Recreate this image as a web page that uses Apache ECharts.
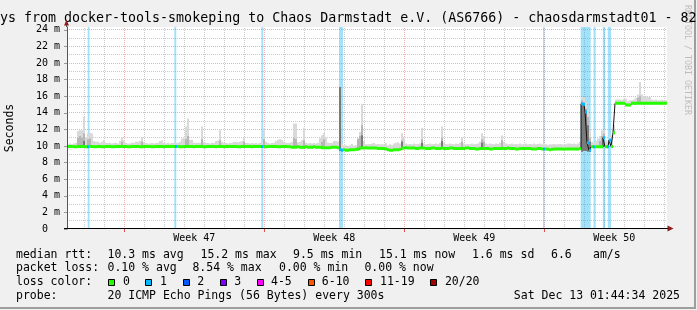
<!DOCTYPE html>
<html><head><meta charset="utf-8">
<script src="https://cdn.jsdelivr.net/npm/echarts@6/dist/echarts.min.js"></script>
<style>html,body{margin:0;padding:0;background:#f0f0f0}#c{width:697px;height:310px}</style>
</head><body><div id="c"></div>
<script>
// ---------------- data ----------------
const titleText = 'ys from docker-tools-smokeping to Chaos Darmstadt e.V. (AS6766) - chaosdarmstadt01 - 82';
const yAxisName = 'Seconds';
const watermark = 'RRDTOOL / TOBI OETIKER';
const yTicks = [0,2,4,6,8,10,12,14,16,18,20,22,24];
const yMinor = [1,3,5,7,9,11,13,15,17,19,21,23];
const weekStarts = [0,7,14,21];          // days, Monday of each week
const weekNames = ['Week 47','Week 48','Week 49','Week 50'];
const dayLines = [-2,-1,1,2,3,4,5,6,8,9,10,11,12,13,15,16,17,18,19,20,22,23,24,25,26,27];
const startDay = -2.865;                 // first sample, days relative to week 47 start
const stepDays = 0.1;                    // sample length in days

const median = [
9.95,9.95,9.95,9.9,9.9,9.95,9.95,9.95,9.95,9.9,
9.9,9.95,9.95,9.9,9.9,9.95,9.95,9.9,9.9,9.95,
9.95,9.95,9.9,9.9,9.95,9.95,9.95,9.95,9.95,9.95,
9.9,9.9,9.95,9.95,9.95,9.95,9.9,9.9,9.95,9.95,
9.95,9.95,9.9,9.9,9.95,9.95,9.95,9.95,9.9,9.95,
9.95,9.95,9.95,9.95,9.95,9.95,9.9,9.9,9.95,9.95,
9.95,9.95,9.95,9.9,9.95,9.95,9.95,9.95,9.9,9.9,
9.95,9.95,9.95,9.95,9.9,9.95,9.95,9.95,9.9,9.95,
9.95,9.95,9.95,9.95,9.95,9.9,9.9,9.95,9.95,9.95,
9.95,9.95,9.9,9.95,9.95,9.95,9.95,9.95,9.95,9.9,
9.95,9.95,9.95,9.95,9.95,9.9,9.9,9.95,9.95,9.95,
9.9,9.9,9.85,9.85,9.85,9.9,9.85,9.85,9.85,9.9,
9.85,9.85,9.85,9.9,9.85,9.85,9.85,9.8,9.8,9.8,
9.8,9.8,9.85,9.85,9.85,9.8,9.6,9.5,9.55,9.5,
9.5,9.55,9.55,9.55,9.6,9.6,9.75,9.75,9.75,9.8,
9.75,9.75,9.75,9.75,9.75,9.7,9.7,9.7,9.7,9.65,
9.55,9.5,9.5,9.55,9.55,9.55,9.6,9.75,9.75,9.8,
9.75,9.75,9.75,9.75,9.7,9.7,9.75,9.75,9.75,9.7,
9.7,9.7,9.75,9.75,9.7,9.7,9.7,9.75,9.7,9.7,
9.7,9.75,9.75,9.7,9.7,9.7,9.7,9.7,9.7,9.75,
9.75,9.7,9.7,9.7,9.65,9.65,9.7,9.7,9.7,9.7,
9.7,9.65,9.65,9.7,9.7,9.7,9.7,9.7,9.7,9.7,
9.75,9.7,9.7,9.7,9.65,9.65,9.7,9.7,9.7,9.7,
9.7,9.7,9.65,9.65,9.65,9.7,9.7,9.65,9.65,9.65,
9.6,9.55,9.6,9.65,9.65,9.65,9.65,9.65,9.6,9.65,
9.65,9.65,9.65,9.65,9.65,9.65,9.7,15.1,15.0,14.1,
10.4,9.5,9.9,9.9,9.9,9.9,9.9,9.9,11.0,9.9,
9.9,10.7,9.95,11.6,15.15,15.15,15.15,15.15,15.15,14.95,
14.95,14.95,15.15,15.15,15.15,15.15,15.15,15.15,15.15,15.15,
15.15,15.15,15.15,15.15,15.15,15.15,15.15,15.15,15.15,15.15
];
const smokeMax = [
10.2,10.3,10.2,10.3,10.4,11.8,11.9,11.9,13.5,11.1,
11.5,11.6,11.5,10.6,10.5,10.5,10.4,10.5,10.75,10.4,
10.35,10.4,10.3,10.35,10.4,10.3,10.6,11.1,10.7,10.4,
10.3,10.3,10.4,10.4,10.5,10.5,10.6,11.1,10.5,10.35,
10.3,10.3,10.4,10.3,10.35,10.4,10.6,10.65,10.35,10.3,
10.4,10.3,10.35,10.4,10.35,10.4,10.5,10.9,11.0,12.35,
13.3,10.75,10.75,10.4,10.35,10.4,10.4,12.35,10.5,10.4,
10.35,10.3,10.4,10.35,10.6,10.65,12.0,10.5,10.4,10.35,
10.3,10.35,10.4,10.5,10.5,10.45,10.5,10.6,11.0,10.4,
10.35,10.3,10.35,10.3,10.35,10.3,10.4,10.5,12.1,10.5,
10.4,10.3,10.35,10.4,10.6,10.75,10.8,10.75,10.5,10.4,
10.35,10.4,10.5,12.7,12.7,10.45,10.5,10.7,12.2,10.4,
10.3,10.35,10.3,10.35,10.3,10.4,11.0,11.3,11.56,11.0,
10.4,10.35,10.4,10.6,10.6,10.55,17.1,10.3,10.05,10.1,
10.0,10.05,10.25,10.05,10.1,11.0,11.7,15.1,10.6,10.2,
10.2,10.25,10.3,10.35,10.2,10.25,10.2,10.2,10.2,10.35,
10.1,10.2,10.1,10.3,10.4,10.45,10.3,11.55,11.0,10.3,
10.2,10.25,10.2,10.3,10.2,10.25,10.3,12.2,10.3,10.2,
10.25,10.3,10.2,10.25,10.3,10.2,10.4,12.35,10.4,10.25,
10.2,10.3,10.25,10.2,10.3,10.25,10.4,11.07,10.3,10.2,
10.25,10.2,10.3,10.2,10.25,10.3,10.5,11.55,11.2,10.3,
10.2,10.3,10.25,10.2,10.3,10.25,10.4,11.27,10.5,10.3,
10.2,10.25,10.3,10.2,10.25,10.2,10.3,10.2,10.25,10.3,
10.2,10.25,10.2,10.3,10.2,10.25,10.3,10.2,10.25,10.2,
10.15,10.2,10.2,10.25,10.2,10.2,10.25,10.2,10.15,10.2,
10.3,10.3,10.25,10.3,10.2,10.3,10.5,15.9,15.9,15.3,
14.3,12.0,10.5,10.4,10.6,10.9,11.2,11.9,11.9,10.7,
10.5,11.3,11.3,12.5,15.6,15.6,15.6,15.5,15.7,15.7,
15.4,15.5,15.5,15.6,15.8,16.2,17.7,16.2,16.0,15.9,
15.9,15.9,15.6,15.5,15.6,15.5,15.5,15.6,15.5,15.5
];
// darker smoke bands (sample index -> top value)
const smokeMidIdx = [5,6,7,8,10,11,27,37,59,60,67,76,88,98,113,114,118,127,128,145,146,147,167,177,187,197,207,208,217,257,258,259,260,261,266,267,268,271,273,285,286];
const smokeMidVal = [11.0,11.2,11.0,11.5,10.8,10.9,10.5,10.5,10.8,11.2,10.8,10.7,10.5,10.8,11.0,10.8,10.7,10.5,10.8,10.8,11.2,12.5,10.7,10.8,11.0,10.5,10.8,10.5,10.7,15.5,15.3,14.5,13.5,11.0,10.6,11.2,11.5,10.8,12.0,15.8,16.0];
const smokeCoreIdx = [8,136,147,167,177,187,207,257,258,259,260,261,268];
const smokeCoreVal = [10.6,17.1,11.3,10.5,10.4,10.6,10.4,15.1,14.9,14.0,12.5,10.5,11.0];
// smoke reaching below the median
const smokeLowIdx = [136,137,257,258,259,260,261];
const smokeLowVal = [9.4,9.3,9.3,9.4,9.4,9.3,9.3];
// periods with packet loss (1/20), in days
const lossStart = [-1.83, 2.5, 6.85, 10.735, 20.935, 22.82, 23.46, 23.925, 24.175];
const lossEnd   = [-1.74, 2.6, 6.95, 10.935, 21.01, 23.32, 23.57, 24.045, 24.335];

const statsRtt = ['10.3 ms avg','15.2 ms max','9.5 ms min','15.1 ms now','1.6 ms sd','6.6','am/s'];
const statsLoss = ['0.10 % avg','8.54 % max','0.00 % min','0.00 % now'];
const lossLabels = ['0','1','2','3','4-5','6-10','11-19','20/20'];
const lossColors = ['#26ff00','#00b8ff','#0059ff','#7e00ff','#ff00ff','#ff5500','#ff0000','#a10000'];
const probeText = '20 ICMP Echo Pings (56 Bytes) every 300s';
const dateText = 'Sat Dec 13 01:44:34 2025';

// ---------------- chart ----------------
const FONT = '"DejaVu Sans Mono", monospace';
const yMax = 24.34;
const N = median.length;
const xMin = startDay, xMax = startDay + N * stepDays;
const toMap = (idx, val) => { const m = {}; idx.forEach((k, j) => m[k] = val[j]); return m; };
const midMap = toMap(smokeMidIdx, smokeMidVal);
const coreMap = toMap(smokeCoreIdx, smokeCoreVal);
const lowMap = toMap(smokeLowIdx, smokeLowVal);
const inLoss = t => lossStart.some((s, j) => t >= s && t <= lossEnd[j]);

const outerItems = [], midItems = [], coreItems = [], medItems = [], lineData = [];
for (let i = 0; i < N; i++) {
  const x0 = startDay + i * stepDays, x1 = x0 + stepDays, xc = x0 + stepDays / 2;
  const lo = lowMap[i] !== undefined ? lowMap[i] : median[i];
  outerItems.push([x0, x1, lo, smokeMax[i]]);
  if (midMap[i] !== undefined) midItems.push([x0, x1, lo, midMap[i]]);
  if (coreMap[i] !== undefined) coreItems.push([x0, x1, lo, coreMap[i]]);
  medItems.push([x0, x1, median[i], inLoss(xc) ? 1 : 0]);
  lineData.push([xc, median[i]]);
}

function rectSeries(items, color, z) {
  return {
    type: 'custom', z, silent: true, data: items, encode: { x: [0, 1], y: [2, 3] },
    renderItem(params, api) {
      const a = api.coord([api.value(0), api.value(3)]);
      const b = api.coord([api.value(1), api.value(2)]);
      return { type: 'rect', shape: { x: a[0], y: a[1], width: b[0] - a[0], height: b[1] - a[1] }, style: { fill: color } };
    }
  };
}

const vGrid = dayLines.map(d => [d, 0, 0]).concat(weekStarts.map(d => [d, 0, 1]));
const hGrid = yMinor.map(v => [xMin, v, 0]).concat(yTicks.filter(v => v > 0).map(v => [xMin, v, 1]));
const GRIDC = '#cbcbcb', MGRIDC = '#f0b0b0';

const series = [
  { type: 'custom', z: 1, silent: true, data: vGrid, encode: { x: 0, y: 1 },
    renderItem(p, api) {
      const a = api.coord([api.value(0), 0]), b = api.coord([api.value(0), yMax]);
      const x = Math.floor(a[0]) + 0.5;
      return { type: 'line', shape: { x1: x, y1: a[1], x2: x, y2: b[1] },
        style: { stroke: api.value(2) ? MGRIDC : GRIDC, lineWidth: 1, lineDash: [1, 1] } };
    } },
  { type: 'custom', z: 1, silent: true, data: hGrid, encode: { x: 0, y: 1 },
    renderItem(p, api) {
      const a = api.coord([xMin, api.value(1)]), b = api.coord([xMax, api.value(1)]);
      const y = Math.floor(a[1]) + 0.5;
      return { type: 'line', shape: { x1: a[0], y1: y, x2: b[0], y2: y },
        style: { stroke: api.value(2) ? MGRIDC : GRIDC, lineWidth: 1, lineDash: [1, 1] } };
    } },
  rectSeries(lossStart.map((s, j) => [s, lossEnd[j], 0, yMax]), 'rgba(0,172,240,0.36)', 2),
  rectSeries(outerItems, '#d9d9d9', 3),
  rectSeries(midItems, '#b6b6b6', 3),
  rectSeries(coreItems, '#7a7a7a', 3),
  { type: 'line', z: 4, silent: true, data: lineData, step: 'middle', symbol: 'none',
    lineStyle: { color: '#101010', width: 1 } },
  { type: 'custom', z: 5, silent: true, data: medItems, encode: { x: [0, 1], y: 2 },
    renderItem(p, api) {
      const a = api.coord([api.value(0), api.value(2)]), b = api.coord([api.value(1), api.value(2)]);
      return { type: 'rect', shape: { x: a[0], y: a[1] - 1.5, width: b[0] - a[0], height: 3 },
        style: { fill: lossColors[api.value(3)] } };
    } }
];

// graphics (texts, legend, decorations)
const G = [];
const T = (x, y, text, size, extra) => G.push(Object.assign({ type: 'text', x, y, z: 50,
  style: Object.assign({ text, fontFamily: FONT, fontSize: size, fill: '#000', verticalAlign: 'middle', align: 'left' }, extra || {}) }));
// borders
G.push({ type: 'rect', shape: { x: 694, y: 0, width: 2, height: 309 }, style: { fill: '#9e9e9e' }, z: 40 });
G.push({ type: 'rect', shape: { x: 0, y: 307, width: 696, height: 2 }, style: { fill: '#9e9e9e' }, z: 40 });
// watermark and title
G.push({ type: 'text', x: 687, y: 60, rotation: -Math.PI / 2, z: 45,
  style: { text: watermark, fontFamily: FONT, fontSize: 8.3, fill: '#bdbdbd', align: 'center', verticalAlign: 'middle' } });
T(0, 19, titleText, 13.3);
G.push({ type: 'text', x: 10.5, y: 128, rotation: Math.PI / 2, z: 50,
  style: { text: yAxisName, fontFamily: FONT, fontSize: 11.5, fill: '#000', align: 'center', verticalAlign: 'middle' } });
// arrows
G.push({ type: 'line', shape: { x1: 66.5, y1: 27, x2: 66.5, y2: 23 }, style: { stroke: '#555', lineWidth: 1 }, z: 60 });
G.push({ type: 'polygon', shape: { points: [[64, 25.5], [69, 25.5], [66.5, 20]] }, style: { fill: '#8c1c1c' }, z: 60 });
G.push({ type: 'line', shape: { x1: 64, y1: 228.5, x2: 668, y2: 228.5 }, style: { stroke: '#000', lineWidth: 1 }, z: 60 });
G.push({ type: 'polygon', shape: { points: [[667.5, 225.5], [667.5, 231.5], [673.5, 228.5]] }, style: { fill: '#8c1c1c' }, z: 60 });
// legend rows
const L = 11.5;
const r1 = 255, r2 = 268.5, r3 = 282.5, r4 = 296;
T(16, r1, 'median rtt:', L);
[107.5, 200.5, 293, 379, 472, 551, 593].forEach((x, j) => T(x, r1, statsRtt[j], L));
T(16, r2, 'packet loss:', L);
[107.5, 192.4, 279, 364.4].forEach((x, j) => T(x, r2, statsLoss[j], L));
T(16, r3, 'loss color:', L);
const boxX = [108, 145, 183, 220, 257, 308, 365, 430];
const labX = [123, 160, 197.3, 234.2, 271, 321.8, 380, 444.9];
lossLabels.forEach((lab, j) => {
  G.push({ type: 'rect', z: 50, shape: { x: boxX[j] + 0.5, y: 279.5, width: 6, height: 6 },
    style: { fill: lossColors[j], stroke: '#000', lineWidth: 1 } });
  T(labX[j], r3, lab, L);
});
T(16, r4, 'probe:', L);
T(107.5, r4, probeText, L);
T(680, r4, dateText, L, { align: 'right' });

const weekCenters = weekStarts.map(w => w + 3.5);
const chart = echarts.init(document.getElementById('c'), null, { renderer: 'canvas', width: 697, height: 310 });
chart.setOption({
  animation: false,
  backgroundColor: '#f0f0f0',
  grid: { left: 67, right: 30, top: 27, bottom: 81, show: true, backgroundColor: '#ffffff', borderWidth: 0 },
  xAxis: {
    type: 'value', min: xMin, max: xMax, z: 10,
    axisLine: { show: false, onZero: false },
    axisTick: { show: true, customValues: weekStarts, length: 3, lineStyle: { color: '#e05050' } },
    axisLabel: { show: true, customValues: weekCenters, margin: 4, color: '#000', fontFamily: FONT, fontSize: 10,
      formatter: v => { let k = 0; weekCenters.forEach((c, j) => { if (Math.abs(c - v) < 0.01) k = j; }); return weekNames[k]; } },
    splitLine: { show: false }
  },
  yAxis: {
    type: 'value', min: 0, max: yMax, z: 10,
    axisLine: { show: true, onZero: false, lineStyle: { color: '#555', width: 1 } },
    axisTick: { show: true, customValues: yTicks, length: 3, lineStyle: { color: '#999' } },
    axisLabel: { show: true, customValues: yTicks, margin: 7, color: '#000', fontFamily: FONT, fontSize: 10,
      formatter: v => v === 0 ? '0\u00a0\u00a0' : v + ' m' },
    splitLine: { show: false }
  },
  series,
  graphic: G
});
</script>
</body></html>
